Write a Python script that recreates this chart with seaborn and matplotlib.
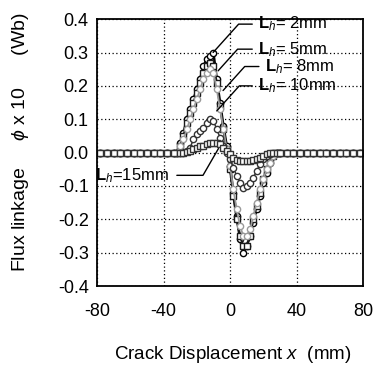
import numpy as np
import pandas as pd
import matplotlib
matplotlib.use("Agg")
import matplotlib.pyplot as plt
import seaborn as sns

sns.set_theme(style="white")
plt.rcParams['font.family'] = ['Liberation Sans', 'DejaVu Sans']
plt.rcParams['mathtext.fontset'] = 'custom'
plt.rcParams['mathtext.rm'] = 'Liberation Sans'
plt.rcParams['mathtext.it'] = 'Liberation Sans:italic'
plt.rcParams['mathtext.bf'] = 'Liberation Sans:bold'

# ---- data ----
left_x = [-78, -74, -70, -66, -62, -58, -54, -50, -46, -42, -38, -34]
right_x = [30, 34, 38, 42, 46, 50, 54, 58, 62, 66, 70, 74, 78]

lh2_x = left_x + [-32, -30, -28, -26, -24, -22, -20, -18, -16, -14, -12, -10,
                  -8, -6, -4, -2, 0, 2, 4, 6, 8, 10, 12, 14, 16, 18, 20, 22, 24, 26, 28] + right_x
lh2_y = [0.0] * 12 + [0.0, 0.03, 0.06, 0.10, 0.13, 0.16, 0.19, 0.22, 0.26, 0.28, 0.29, 0.30,
                      0.22, 0.15, 0.08, 0.02, -0.04, -0.12, -0.19, -0.26, -0.30, -0.28, -0.25, -0.21,
                      -0.17, -0.13, -0.09, -0.06, -0.03, -0.01, 0.0] + [0.0] * 13

lh5_x = lh2_x
lh5_y = [0.0] * 12 + [0.0, 0.02, 0.05, 0.09, 0.12, 0.15, 0.18, 0.21, 0.24, 0.26, 0.27, 0.26,
                      0.21, 0.14, 0.07, 0.01, -0.05, -0.13, -0.20, -0.25, -0.28, -0.28, -0.25, -0.20,
                      -0.16, -0.12, -0.08, -0.05, -0.02, -0.01, 0.0] + [0.0] * 13

lh8_x = lh2_x
lh8_y = [0.0] * 12 + [0.0, 0.02, 0.04, 0.07, 0.10, 0.13, 0.16, 0.19, 0.22, 0.24, 0.25, 0.24,
                      0.19, 0.13, 0.07, 0.01, -0.04, -0.11, -0.17, -0.22, -0.25, -0.25, -0.23, -0.19,
                      -0.15, -0.11, -0.08, -0.05, -0.03, -0.01, 0.0] + [0.0] * 13

lh10_x = left_x + [-30, -28, -26, -24, -22, -20, -18, -16, -14, -12, -10, -8, -6, -4, -2,
                   0, 2, 4, 6, 8, 10, 12, 14, 16, 18, 20, 22, 24, 26, 28] + right_x
lh10_y = [0.0] * 12 + [0.0, 0.0, 0.005, 0.015, 0.04, 0.055, 0.065, 0.075, 0.09, 0.10, 0.095,
                       0.07, 0.045, 0.02, 0.0, -0.02, -0.045, -0.07, -0.09, -0.105, -0.10, -0.09,
                       -0.075, -0.055, -0.035, -0.02, -0.01, -0.005, 0.0, 0.0] + [0.0] * 13

lh15_x = lh10_x
lh15_y = [0.0] * 12 + [0.0, 0.0, 0.002, 0.005, 0.01, 0.015, 0.02, 0.02, 0.025, 0.028, 0.03,
                       0.03, 0.025, 0.015, 0.005, -0.005, -0.015, -0.022, -0.025, -0.025, -0.025,
                       -0.024, -0.022, -0.02, -0.015, -0.01, -0.005, -0.002, 0.0, 0.0] + [0.0] * 13

series = {
    "2mm": (lh2_x, lh2_y),
    "5mm": (lh5_x, lh5_y),
    "8mm": (lh8_x, lh8_y),
    "10mm": (lh10_x, lh10_y),
    "15mm": (lh15_x, lh15_y),
}
styles = {
    "2mm": dict(color="black", marker="o", lw=1.8),
    "5mm": dict(color="#1a1a1a", marker="s", lw=1.6),
    "8mm": dict(color="#9a9a9a", marker="o", lw=1.3),
    "10mm": dict(color="#333333", marker="o", lw=1.1),
    "15mm": dict(color="#333333", marker="s", lw=1.1),
}

x_ticks = [-80, -40, 0, 40, 80]
y_ticks = [-0.4, -0.3, -0.2, -0.1, 0.0, 0.1, 0.2, 0.3, 0.4]

fig = plt.figure(figsize=(3.79, 3.75), dpi=100)
ax = fig.add_axes([0.256, 0.237, 0.702, 0.712])

for name, (xs, ys) in series.items():
    df = pd.DataFrame({"x": xs, "y": ys})
    st = styles[name]
    sns.lineplot(data=df, x="x", y="y", ax=ax, color=st["color"], lw=st["lw"],
                 marker=st["marker"], markersize=4.5, markerfacecolor="white",
                 markeredgecolor=st["color"], markeredgewidth=1.0, sort=False)

ax.set_xlim(-80, 80)
ax.set_ylim(-0.4, 0.4)
ax.set_xticks(x_ticks)
ax.set_yticks(y_ticks)
ax.set_xticklabels([f"{v:d}" for v in x_ticks], fontsize=13)
ax.set_yticklabels([f"{v:.1f}" for v in y_ticks], fontsize=13)
ax.tick_params(axis="both", direction="in", length=8, width=1.2, color="black",
               colors="black", pad=6)
ax.tick_params(axis="x", pad=12)
ax.grid(True, color="black", linestyle=(0, (1, 2)), linewidth=0.9)
for sp in ax.spines.values():
    sp.set_color("black")
    sp.set_linewidth(1.3)

ax.set_xlabel(r"Crack Displacement $\mathit{x}$  (mm)", fontsize=13.5, color="black")
ax.set_ylabel(r"Flux linkage     $\phi$ x 10      (Wb)", fontsize=14, color="black")
ax.xaxis.set_label_coords(0.51, -0.215)
ax.yaxis.set_label_coords(-0.25, 0.54)

lab_fs = 12
ann = [
    (r"$\mathbf{L}_{\mathit{h}}$= 2mm", (-10.2, 0.30), (17, 0.385), 48),
    (r"$\mathbf{L}_{\mathit{h}}$= 5mm", (-7.2, 0.245), (17, 0.31), 48),
    (r"$\mathbf{L}_{\mathit{h}}$= 8mm", (-4.2, 0.186), (21, 0.258), 48),
    (r"$\mathbf{L}_{\mathit{h}}$= 10mm", (-8, 0.125), (17, 0.200), 48),
]
for txt, xy, xyt, ang in ann:
    ax.annotate(txt, xy=xy, xytext=xyt, textcoords="data", fontsize=lab_fs,
                ha="left", va="center", color="black",
                arrowprops=dict(arrowstyle="-", color="black", lw=1.0,
                                shrinkA=2, shrinkB=0,
                                connectionstyle=f"angle,angleA=0,angleB={ang},rad=0"))
ax.annotate(r"$\mathbf{L}_{\mathit{h}}$=15mm", xy=(-7, 0.012), xytext=(-81, -0.068),
            textcoords="data", fontsize=lab_fs, ha="left", va="center", color="black",
            arrowprops=dict(arrowstyle="-", color="black", lw=1.0, shrinkA=3, shrinkB=0,
                            connectionstyle="angle,angleA=0,angleB=-120,rad=0"),
            annotation_clip=False)

fig.savefig("out.png", dpi=100, facecolor="white")
